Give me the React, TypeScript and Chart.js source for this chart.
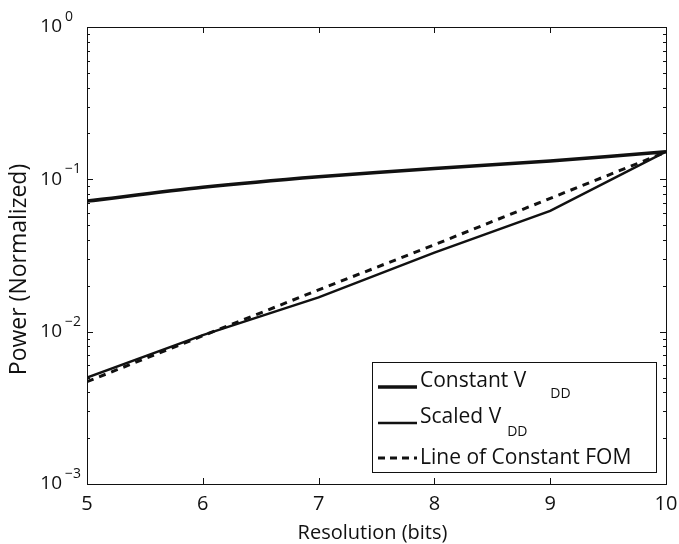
import React, { useEffect, useRef } from 'react';
import { Chart, registerables } from 'chart.js';

Chart.register(...registerables);

// ---- data ----
const resolutionBits = [5, 6, 7, 8, 9, 10];
const constantVdd = [0.072, 0.0886, 0.104, 0.118, 0.132, 0.152];
const scaledVdd = [0.005, 0.0095, 0.0168, 0.033, 0.062, 0.152];
const constantFom = [0.0047, 0.0094, 0.0188, 0.0372, 0.075, 0.151];
const xTickValues = [5, 6, 7, 8, 9, 10];
const yDecadeExponents = [-3, -2, -1, 0];
const xTitle = 'Resolution (bits)';
const yTitle = 'Power (Normalized)';
const legendMain = ['Constant V', 'Scaled V', 'Line of Constant FOM'];
const legendSub = ['DD', 'DD', ''];

const INK = '#111';
const FONT = '"Open Sans", "Noto Sans", sans-serif';

const axesPlugin = {
  id: 'matlabAxes',
  afterDatasetsDraw(chart: any) {
    const { ctx, chartArea: a, scales } = chart;
    const xs = scales.x;
    const ys = scales.y;
    ctx.save();
    ctx.strokeStyle = INK;
    ctx.fillStyle = INK;
    ctx.lineWidth = 1;
    // frame
    ctx.strokeRect(Math.round(a.left) + 0.5, Math.round(a.top) + 0.5, Math.round(a.right - a.left), Math.round(a.bottom - a.top));
    // x ticks
    ctx.beginPath();
    for (const v of xTickValues) {
      const px = Math.round(xs.getPixelForValue(v)) + 0.5;
      ctx.moveTo(px, a.bottom);
      ctx.lineTo(px, a.bottom - 6);
      ctx.moveTo(px, a.top);
      ctx.lineTo(px, a.top + 6);
    }
    // y ticks (major + minor)
    for (const e of yDecadeExponents) {
      for (let m = 1; m <= 9; m++) {
        if (e === 0 && m > 1) break;
        const v = m * Math.pow(10, e);
        const py = Math.round(ys.getPixelForValue(v)) + 0.5;
        const len = m === 1 ? 6 : 3;
        ctx.moveTo(a.left, py);
        ctx.lineTo(a.left + len, py);
        ctx.moveTo(a.right, py);
        ctx.lineTo(a.right - len, py);
      }
    }
    ctx.stroke();

    // x tick labels
    ctx.font = `20px ${FONT}`;
    ctx.textAlign = 'center';
    ctx.textBaseline = 'middle';
    for (const v of xTickValues) {
      ctx.fillText(String(v), xs.getPixelForValue(v), a.bottom + 20);
    }
    // y tick labels 10^e
    for (const e of yDecadeExponents) {
      const py = ys.getPixelForValue(Math.pow(10, e));
      ctx.font = `19px ${FONT}`;
      ctx.textAlign = 'right';
      ctx.textBaseline = 'middle';
      ctx.fillText('10', 62, py);
      ctx.font = `14px ${FONT}`;
      ctx.textAlign = 'left';
      ctx.fillText(e === 0 ? '0' : '\u2212' + String(-e), 65, py - 10);
    }
    // axis titles
    ctx.font = `20px ${FONT}`;
    ctx.textAlign = 'center';
    ctx.textBaseline = 'middle';
    ctx.fillText(xTitle, (a.left + a.right) / 2 - 4, a.bottom + 49);
    ctx.save();
    ctx.translate(19, (a.top + a.bottom) / 2 + 14);
    ctx.rotate(-Math.PI / 2);
    ctx.font = `23px ${FONT}`;
    ctx.fillText(yTitle, 0, 0);
    ctx.restore();

    // legend
    const bx = 372, by = 362, bw = 284, bh = 110;
    ctx.fillStyle = '#fff';
    ctx.fillRect(bx, by, bw, bh);
    ctx.strokeStyle = INK;
    ctx.lineWidth = 1;
    ctx.strokeRect(bx + 0.5, by + 0.5, bw, bh);
    const rows = [
      { ly: 387, ty: 381, sy: 394, gap: 24, width: 3.5, dash: [] as number[] },
      { ly: 423, ty: 417, sy: 432, gap: 6, width: 2.5, dash: [] as number[] },
      { ly: 458, ty: 458, sy: 458, gap: 0, width: 3, dash: [7, 5] },
    ];
    rows.forEach((r, i) => {
      ctx.beginPath();
      ctx.setLineDash(r.dash);
      ctx.lineWidth = r.width;
      ctx.strokeStyle = INK;
      ctx.moveTo(378, r.ly);
      ctx.lineTo(417, r.ly);
      ctx.stroke();
      ctx.setLineDash([]);
      ctx.fillStyle = INK;
      ctx.font = `21px ${FONT}`;
      ctx.textAlign = 'left';
      ctx.textBaseline = 'middle';
      ctx.fillText(legendMain[i], 420, r.ty);
      if (legendSub[i]) {
        const w = ctx.measureText(legendMain[i]).width;
        ctx.font = `14px ${FONT}`;
        ctx.fillText(legendSub[i], 420 + w + r.gap, r.sy);
      }
    });
    ctx.restore();
  },
};

export default function App() {
  const canvasRef = useRef<HTMLCanvasElement | null>(null);

  useEffect(() => {
    document.body.style.margin = '0';
    const canvas = canvasRef.current;
    if (!canvas) return;
    const toPts = (ys: number[]) => resolutionBits.map((x, i) => ({ x, y: ys[i] }));
    const chart = new Chart(canvas, {
      type: 'line',
      data: {
        datasets: [
          {
            label: 'Constant VDD',
            data: toPts(constantVdd),
            borderColor: INK,
            borderWidth: 3.5,
            pointRadius: 0,
            tension: 0.3,
            fill: false,
          },
          {
            label: 'Scaled VDD',
            data: toPts(scaledVdd),
            borderColor: INK,
            borderWidth: 2.5,
            pointRadius: 0,
            tension: 0,
            fill: false,
          },
          {
            label: 'Line of Constant FOM',
            data: toPts(constantFom),
            borderColor: INK,
            borderWidth: 3,
            borderDash: [7, 6],
            pointRadius: 0,
            tension: 0,
            fill: false,
          },
        ],
      },
      options: {
        responsive: false,
        animation: false,
        layout: { padding: { left: 87, right: 13, top: 27, bottom: 60 } },
        plugins: { legend: { display: false }, tooltip: { enabled: false } },
        scales: {
          x: { type: 'linear', min: 5, max: 10, display: false },
          y: { type: 'logarithmic', min: 0.001, max: 1, display: false },
        },
      },
      plugins: [axesPlugin],
    });
    return () => chart.destroy();
  }, []);

  return (
    <div style={{ position: 'fixed', left: 0, top: 0, width: 679, height: 544, background: '#fff' }}>
      <canvas ref={canvasRef} width={679} height={544} />
    </div>
  );
}
